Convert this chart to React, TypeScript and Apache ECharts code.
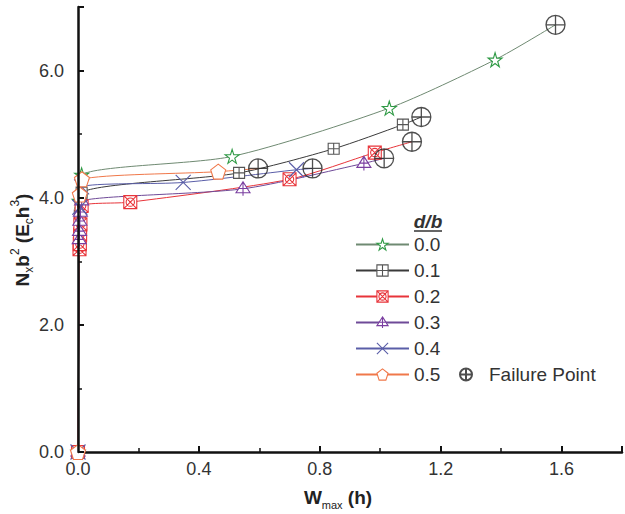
import React, { useEffect, useRef } from 'react';
import * as echarts from 'echarts';

// ---- data (W_max in h, Nx b^2 in Ec h^3) ----
const seriesNames = ['0.0', '0.1', '0.2', '0.3', '0.4', '0.5'];
const s00 = [[0, 0], [0.004, 3.95], [0.012, 4.36], [0.51, 4.65], [1.03, 5.41], [1.38, 6.17], [1.58, 6.72]];
const s01 = [[0, 0], [0.006, 3.72], [0.012, 4.08], [0.533, 4.39], [0.846, 4.77], [1.075, 5.15], [1.136, 5.27]];
const s02 = [[0, 0], [0.005, 3.19], [0.006, 3.27], [0.007, 3.42], [0.008, 3.58], [0.012, 3.87], [0.173, 3.93], [0.70, 4.29], [0.982, 4.71], [1.105, 4.88]];
const s03 = [[0, 0], [0.004, 3.34], [0.005, 3.47], [0.006, 3.63], [0.008, 3.77], [0.012, 3.95], [0.546, 4.14], [0.946, 4.54], [1.013, 4.62]];
const s04 = [[0, 0], [0.006, 3.85], [0.012, 4.17], [0.348, 4.24], [0.723, 4.44], [0.776, 4.46]];
const s05 = [[0, 0], [0.006, 4.05], [0.013, 4.29], [0.464, 4.41], [0.596, 4.46]];
const failurePoints = [[1.58, 6.72], [1.136, 5.27], [1.105, 4.88], [1.013, 4.62], [0.776, 4.46], [0.596, 4.46]];
const xTicks = { min: 0, max: 1.8, interval: 0.4 };
const yTicks = { min: 0, max: 7, interval: 2 };

const FONT = '"Liberation Sans", Arial, sans-serif';

const SYM = {
  star: 'path://M50 0L61 35L98 35L68 57L79 91L50 70L21 91L32 57L2 35L39 35Z',
  sqPlus: 'path://M0 0H10V10H0Z M5 0V10 M0 5H10',
  sqX: 'path://M0 0H10V10H0Z M0 0L10 10 M10 0L0 10 M8.2 5A3.2 3.2 0 1 1 1.8 5A3.2 3.2 0 1 1 8.2 5Z',
  triPlus: 'path://M5 0L10 9H0Z M5 0V11.5 M1.5 5.5H8.5',
  cross: 'path://M0 0L10 10M10 0L0 10',
  penta: 'path://M50 0L98 35L79 91H21L2 35Z',
  fail: 'path://M20 10A10 10 0 1 1 0 10A10 10 0 1 1 20 10Z M10 0V20 M0 10H20',
};

const LINE_COLORS = ['#6f8a72', '#3a3a3a', '#e8343a', '#6f4a98', '#5a5ea8', '#f0784a'];
const MARK_COLORS = ['#2f9a45', '#555555', '#e8343a', '#7a3ea0', '#5a5ea8', '#f0784a'];

export default function App() {
  const ref = useRef<HTMLDivElement>(null);
  useEffect(() => {
    if (!ref.current) return;
    const chart = echarts.init(ref.current, undefined, { renderer: 'svg' });

    const mk = (idx: number, pts: number[][], symbol: string, size: number) => {
      const last = pts.length - 1;
      return {
        type: 'line',
        name: seriesNames[idx],
        data: pts.map((p, i) => (i === last ? { value: p, symbol: 'none' } : p)),
        symbol,
        symbolSize: size,
        smooth: 0.25,
        clip: false,
        lineStyle: { color: LINE_COLORS[idx], width: 1 },
        itemStyle: { color: '#ffffff', borderColor: MARK_COLORS[idx], borderWidth: 1.1 },
        z: 2,
      };
    };

    const legendText = { fontSize: 19, lineHeight: 19, color: '#333', fontFamily: FONT };

    const option: any = {
      animation: false,
      grid: { left: 78, right: 3, top: 7, bottom: 62, containLabel: false },
      xAxis: {
        type: 'value',
        ...xTicks,
        axisLine: { lineStyle: { color: '#111', width: 2.5 } },
        axisTick: { inside: true, length: 6, lineStyle: { color: '#111', width: 2 } },
        minorTick: { show: true, splitNumber: 2, length: 4, lineStyle: { color: '#111', width: 1.5 } },
        splitLine: { show: false },
        axisLabel: { formatter: (v: number) => v.toFixed(1), fontSize: 18, color: '#333', margin: 8, fontFamily: FONT, showMaxLabel: false },
      },
      yAxis: {
        type: 'value',
        ...yTicks,
        z: 10,
        axisLine: { lineStyle: { color: '#111', width: 2.5 } },
        axisTick: { inside: true, length: 6, lineStyle: { color: '#111', width: 2 } },
        minorTick: { show: true, splitNumber: 2, length: 4, lineStyle: { color: '#111', width: 1.5 } },
        splitLine: { show: false },
        axisLabel: { formatter: (v: number) => v.toFixed(1), fontSize: 18, color: '#333', margin: 14, fontFamily: FONT, showMaxLabel: false },
      },
      legend: [
        {
          data: seriesNames.map((n, i) => ({
            name: n,
            itemStyle: { color: '#ffffff', borderColor: MARK_COLORS[i], borderWidth: 1.1 },
          })),
          orient: 'vertical',
          left: 355,
          top: 235,
          padding: 0,
          itemWidth: 53,
          itemHeight: 14,
          itemGap: 7,
          textStyle: legendText,
        },
        {
          data: ['Failure Point'],
          left: 459,
          top: 365,
          padding: 0,
          itemWidth: 36,
          itemHeight: 12,
          textStyle: legendText,
        },
      ],
      series: [
        mk(0, s00, SYM.star, 14),
        mk(1, s01, SYM.sqPlus, 11),
        mk(2, s02, SYM.sqX, 13),
        mk(3, s03, SYM.triPlus, 14),
        mk(4, s04, SYM.cross, 15),
        mk(5, s05, SYM.penta, 15),
        {
          type: 'scatter',
          name: 'Failure Point',
          data: failurePoints,
          symbol: SYM.fail,
          symbolSize: 19,
          itemStyle: { color: 'rgba(255,255,255,0)', borderColor: '#222', borderWidth: 1.3 },
          z: 4,
        },
      ],
      graphic: [
        {
          type: 'text',
          x: 428,
          y: 221,
          style: { text: 'd/b', font: `italic bold 19px ${FONT}`, fill: '#333', align: 'center', verticalAlign: 'middle' },
        },
        { type: 'line', shape: { x1: 414, y1: 231, x2: 442, y2: 231 }, style: { stroke: '#333', lineWidth: 1.5 } },
        {
          type: 'text',
          x: 338,
          y: 497,
          style: {
            text: '{b|W}{s|max}{b| (h)}',
            align: 'center',
            verticalAlign: 'middle',
            rich: {
              b: { fontSize: 19, fontWeight: 'bold', fontFamily: FONT, fill: '#222', lineHeight: 26 },
              s: { fontSize: 11, fontFamily: FONT, fill: '#222', verticalAlign: 'bottom', lineHeight: 26 },
            },
          },
        },
        {
          type: 'text',
          x: 22,
          y: 240,
          rotation: Math.PI / 2,
          style: {
            text: '{b|N}{s|x}{b|b}{p|2}{b| (E}{s|c}{b|h}{p|3}{b|)}',
            align: 'center',
            verticalAlign: 'middle',
            rich: {
              b: { fontSize: 19, fontWeight: 'bold', fontFamily: FONT, fill: '#222', lineHeight: 26 },
              s: { fontSize: 12, fontFamily: FONT, fill: '#222', verticalAlign: 'bottom', lineHeight: 26 },
              p: { fontSize: 12, fontFamily: FONT, fill: '#222', verticalAlign: 'top', lineHeight: 26 },
            },
          },
        },
      ],
    };
    chart.setOption(option);
    return () => chart.dispose();
  }, []);
  return <div ref={ref} style={{ width: 625, height: 514, position: 'absolute', left: 0, top: 0, background: '#fff' }} />;
}
